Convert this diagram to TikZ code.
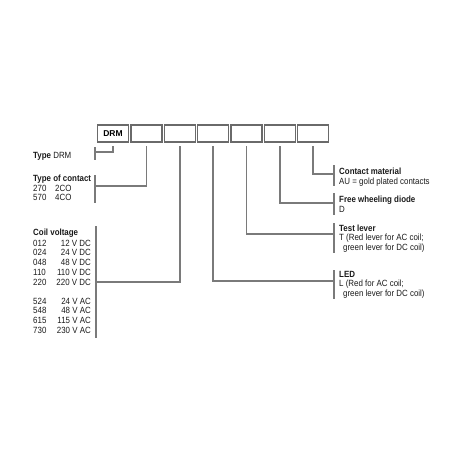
\documentclass[tikz,border=0pt]{standalone}
\usepackage{fontspec}
\setmainfont{Liberation Sans}[FakeStretch=0.88]
\newfontfamily\widefont{Liberation Sans}
\definecolor{linegray}{HTML}{7A7A7A}
\definecolor{boxgray}{HTML}{6A6A6A}
\definecolor{ink}{HTML}{1A1A1A}
\begin{document}
\begin{tikzpicture}[x=1pt,y=-1pt,
  ln/.style={draw=linegray, line width=1.1pt},
  codebox/.style={draw=boxgray, line width=1.1pt, minimum width=31pt, minimum height=17pt, inner sep=0pt},
  txt/.style={font=\fontsize{9}{9}\selectfont, text=ink, inner sep=0pt, anchor=base west},
  txtr/.style={txt, anchor=base east},
  hd/.style={txt, font=\fontsize{9}{9}\selectfont\bfseries}]
\useasboundingbox (0,0) rectangle (459,459);
% code boxes
\node[codebox, font=\widefont\fontsize{8.5}{9}\selectfont\bfseries] (b0) at (113,133.5) {DRM};
\foreach \i/\x in {1/146.5,2/180,3/213,4/246.5,5/280,6/313}
  \node[codebox] (b\i) at (\x,133.5) {};
% junction coordinates
\coordinate (j0) at (95,152);
\coordinate (j1) at (95,186);
\coordinate (j2) at (96,282);
\coordinate (j3) at (334,281);
\coordinate (j4) at (334,234);
\coordinate (j5) at (334,203);
\coordinate (j6) at (334,174);
\foreach \i in {0,...,6}
  \draw[ln, shorten <=3.5pt] (b\i.south) |- (j\i);
% bars
\draw[ln] (95,147) -- (95,160);
\draw[ln] (95,175) -- (95,203);
\draw[ln] (96,226) -- (96,338);
\draw[ln] (334,165) -- (334,186);
\draw[ln] (334,193) -- (334,215);
\draw[ln] (334,223) -- (334,253);
\draw[ln] (334,270) -- (334,299);
% left texts
\node[txt] (tdrm) at (33,158) {\textbf{Type} DRM};
\node[hd] (tcon) at (33,181) {Type of contact};
\node[txt] (c270) at (33,191) {270};
\node[txt] (c2co) at (55,191) {2CO};
\node[txt] (c570) at (33,200) {570};
\node[txt] (c4co) at (55,200) {4CO};
\node[hd] (tcoil) at (33,235) {Coil voltage};
\foreach \c/\v/\y in {012/12 V DC/246, 024/24 V DC/255.75, 048/48 V DC/265.5, 110/110 V DC/275.25, 220/220 V DC/285,
                      524/24 V AC/304, 548/48 V AC/313.7, 615/115 V AC/323.4, 730/230 V AC/333}{
  \node[txt] (k\c) at (33,\y) {\c};
  \node[txtr] (v\c) at (91,\y) {\v};
}
% right texts
\node[hd] (tcm) at (339,174) {Contact material};
\node[txt] (tau) at (339,184) {AU = gold plated contacts};
\node[hd] (tfw) at (339,202) {Free wheeling diode};
\node[txt] (td) at (339,212) {D};
\node[hd] (ttl) at (339,231) {Test lever};
\node[txt] (tt1) at (339,240.5) {T (Red lever for AC coil;};
\node[txt] (tt2) at (343,250) {green lever for DC coil)};
\node[hd] (tled) at (339,277) {LED};
\node[txt] (tl1) at (339,286.5) {L (Red for AC coil;};
\node[txt] (tl2) at (343,296) {green lever for DC coil)};
\end{tikzpicture}
\end{document}
